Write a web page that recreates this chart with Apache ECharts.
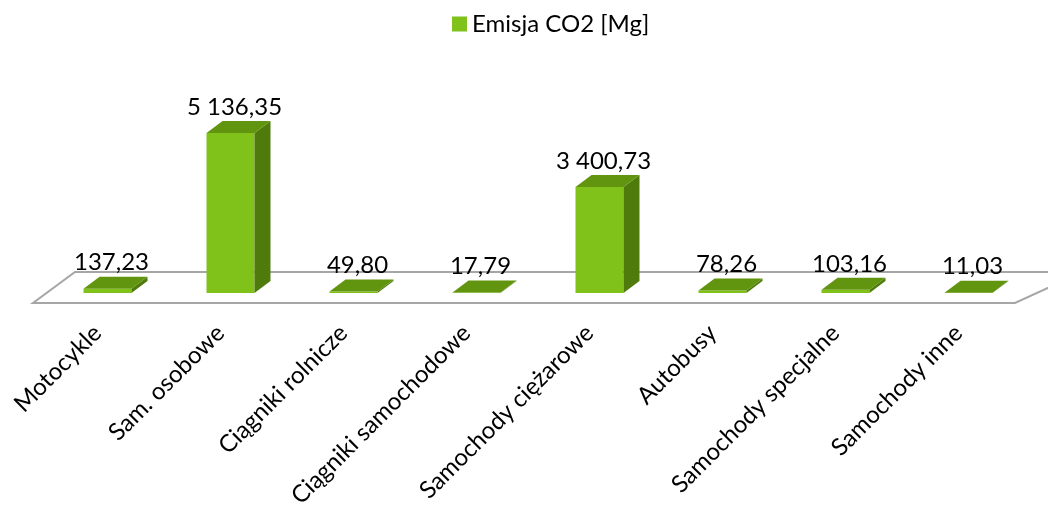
<!DOCTYPE html>
<html>
<head>
<meta charset="utf-8">
<script src="https://cdn.jsdelivr.net/npm/echarts@6/dist/echarts.min.js"></script>
<style>
html,body{margin:0;padding:0;background:#fff;}
#c{width:1048px;height:514px;}
</style>
</head>
<body>
<div id="c"></div>
<script>
var categories = ['Motocykle','Sam. osobowe','Ciągniki rolnicze','Ciągniki samochodowe','Samochody ciężarowe','Autobusy','Samochody specjalne','Samochody inne'];
var values = [137.23, 5136.35, 49.80, 17.79, 3400.73, 78.26, 103.16, 11.03];
var seriesName = 'Emisja CO2 [Mg]';

var FONT = 'Lato';
var FRONT = '#80c11a', SIDE = '#4f7b0d', TOP = '#62950f';

function fmt(v){
  var s = v.toFixed(2).split('.');
  var i = s[0].replace(/\B(?=(\d{3})+(?!\d))/g, ' ');
  return i + ',' + s[1];
}

var chart = echarts.init(document.getElementById('c'), null, {renderer:'canvas'});
var gridBase = {top:106, bottom:221, left:46, right:18};
chart.setOption({
  animation:false,
  legend:{
    left:452, top:12, padding:0, itemWidth:15, itemHeight:15, itemGap:7,
    data:[{name:seriesName, icon:'rect', itemStyle:{color:FRONT}}],
    textStyle:{fontFamily:FONT, fontSize:24, color:'#000'}
  },
  grid:[
    {top:gridBase.top, bottom:gridBase.bottom, left:gridBase.left, right:gridBase.right},
    {top:gridBase.top, bottom:gridBase.bottom, left:gridBase.left-10, right:gridBase.right+10}
  ],
  xAxis:[
    {type:'category', data:categories, gridIndex:0, show:false},
    {type:'category', data:categories, gridIndex:1,
     axisLine:{show:false}, axisTick:{show:false},
     axisLabel:{rotate:45, margin:36, interval:0, fontFamily:FONT, fontSize:24, color:'#000'}}
  ],
  yAxis:[
    {type:'value', min:0, max:6000, gridIndex:0, show:false},
    {type:'value', min:0, max:6000, gridIndex:1, show:false}
  ],
  series:[
    {
      type:'custom', name:'floor', silent:true, z:1,
      data:[[0,0]],
      renderItem:function(params, api){
        var cs = params.coordSys;
        var zeroY = api.coord([0,0])[1];
        var fy = zeroY + 10, by = zeroY - 21;
        var L = cs.x, R = cs.x + cs.width;
        return {type:'polygon', shape:{points:[[L-13,fy],[R-15,fy],[R+53,by],[L+29,by]]},
          style:{fill:'#fff', stroke:'#a6a6a6', lineWidth:2}};
      }
    },
    {
      type:'custom', name:seriesName, z:2,
      itemStyle:{color:FRONT},
      data:values.map(function(v,i){return [i,v];}),
      renderItem:function(params, api){
        var idx = api.value(0), v = api.value(1);
        var top = api.coord([idx, v]);
        var base = api.coord([idx, 0]);
        var band = api.size([1,0])[0];
        var w = band*0.39, dx = 16, dy = 12;
        var x0 = top[0]-w/2, x1 = top[0]+w/2;
        var yt = top[1], yb = base[1];
        return {type:'group', children:[
          {type:'polygon', shape:{points:[[x0,yb],[x1,yb],[x1,yt],[x0,yt]]}, style:{fill:FRONT}},
          {type:'polygon', shape:{points:[[x1,yb],[x1+dx,yb-dy],[x1+dx,yt-dy],[x1,yt]]}, style:{fill:SIDE}},
          {type:'polygon', shape:{points:[[x0,yt],[x1,yt],[x1+dx,yt-dy],[x0+dx,yt-dy]]}, style:{fill:TOP}},
          {type:'text', x:top[0]+4, y:yt-dy-14, style:{text:fmt(v), fill:'#000', font:'24px '+FONT, align:'center', verticalAlign:'middle'}}
        ]};
      }
    }
  ]
});
</script>
</body>
</html>
